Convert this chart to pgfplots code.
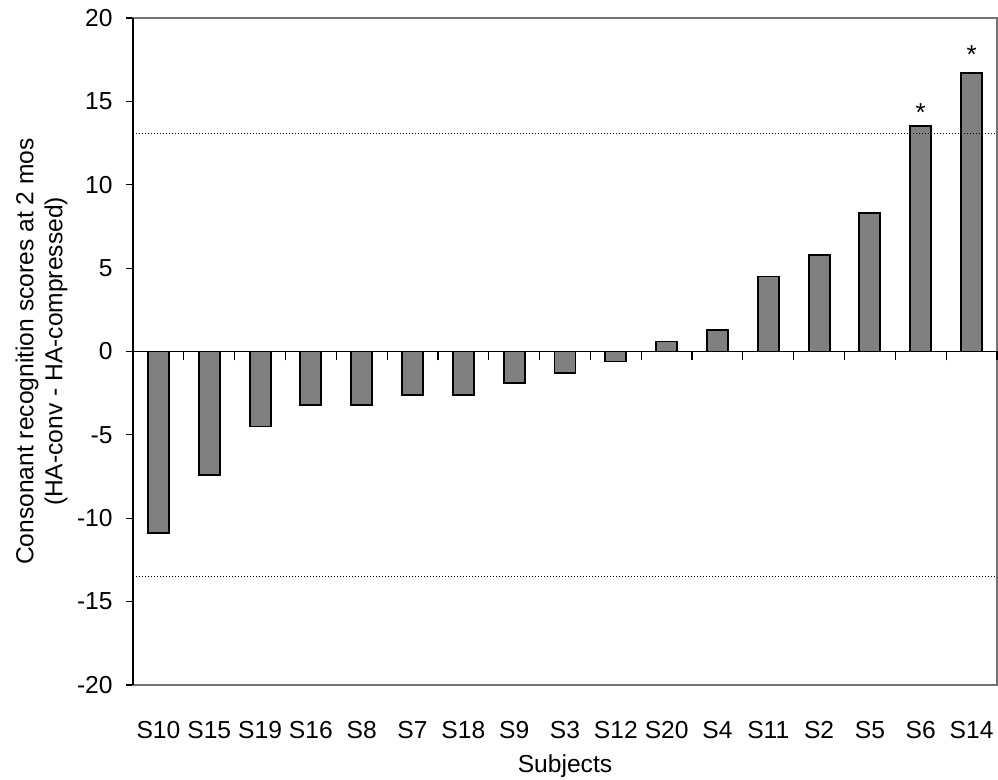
\documentclass[border=0pt]{standalone}
\usepackage{pgfplots}
\pgfplotsset{compat=1.18}
\usepackage{fontspec}
\setmainfont{Liberation Sans}
\begin{document}
\begin{tikzpicture}
\path[use as bounding box] (-66.5pt,-47.5pt) rectangle (432.5pt,342.5pt);
\begin{axis}[
  at={(0pt,0pt)}, anchor=south west,
  scale only axis, width=432pt, height=333.5pt,
  xmin=-0.5, xmax=16.5, ymin=-20, ymax=20,
  axis line style={black!55, line width=0.6pt},
  xtick={0,...,16},
  xticklabels={S10,S15,S19,S16,S8,S7,S18,S9,S3,S12,S20,S4,S11,S2,S5,S6,S14},
  x tick style={draw=none},
  ytick={-20,-15,...,20},
  ytick pos=left, tick align=outside,
  y tick style={black, line width=0.6pt}, major tick length=3.5pt,
  font=\fontsize{12.3}{14.5}\selectfont,
  /pgf/number format/assume math mode=true,
  xticklabel style={anchor=base, yshift=-23.5pt},
  yticklabel style={anchor=east, inner sep=0pt, xshift=-6.5pt},
  xlabel={Subjects},
  xlabel style={at={(axis description cs:0.5,0)}, anchor=base, yshift=-44pt},
  ylabel={Consonant recognition scores at 2 mos\\(HA-conv - HA-compressed)},
  ylabel style={at={(axis description cs:-0.1059,0.5)}, anchor=center, align=center},
  clip=false,
]
\addplot[ybar, bar width=10.5pt, fill=black!50, draw=black, line width=0.95pt] coordinates {
(0,-10.9) (1,-7.4) (2,-4.5) (3,-3.2) (4,-3.2) (5,-2.6) (6,-2.6) (7,-1.9) (8,-1.3)
(9,-0.6) (10,0.6) (11,1.3) (12,4.5) (13,5.8) (14,8.3) (15,13.5) (16,16.7)};
\addplot[densely dotted, black, line width=0.5pt] coordinates {(-0.5,13.1) (16.5,13.1)};
\addplot[densely dotted, black, line width=0.5pt] coordinates {(-0.5,-13.5) (16.5,-13.5)};
\node[anchor=base, font=\fontsize{13}{14}\selectfont] at (axis cs:15,13.82) {*};
\node[anchor=base, font=\fontsize{13}{14}\selectfont] at (axis cs:16,17.3) {*};
\draw[black, line width=0.7pt] (rel axis cs:0,0) -- (rel axis cs:0,1);
\end{axis}
\begin{axis}[
  at={(0pt,0pt)}, anchor=south west,
  scale only axis, width=432pt, height=333.5pt,
  xmin=-0.5, xmax=16.5, ymin=-20, ymax=20,
  axis x line=middle, axis y line=none,
  axis line style={black, -, line width=0.6pt},
  xtick={-0.5,0.5,...,16.5}, xticklabels={},
  x tick style={black, line width=0.6pt},
  tick align=outside, major tick length=4.5pt,
]
\end{axis}
\end{tikzpicture}
\end{document}
